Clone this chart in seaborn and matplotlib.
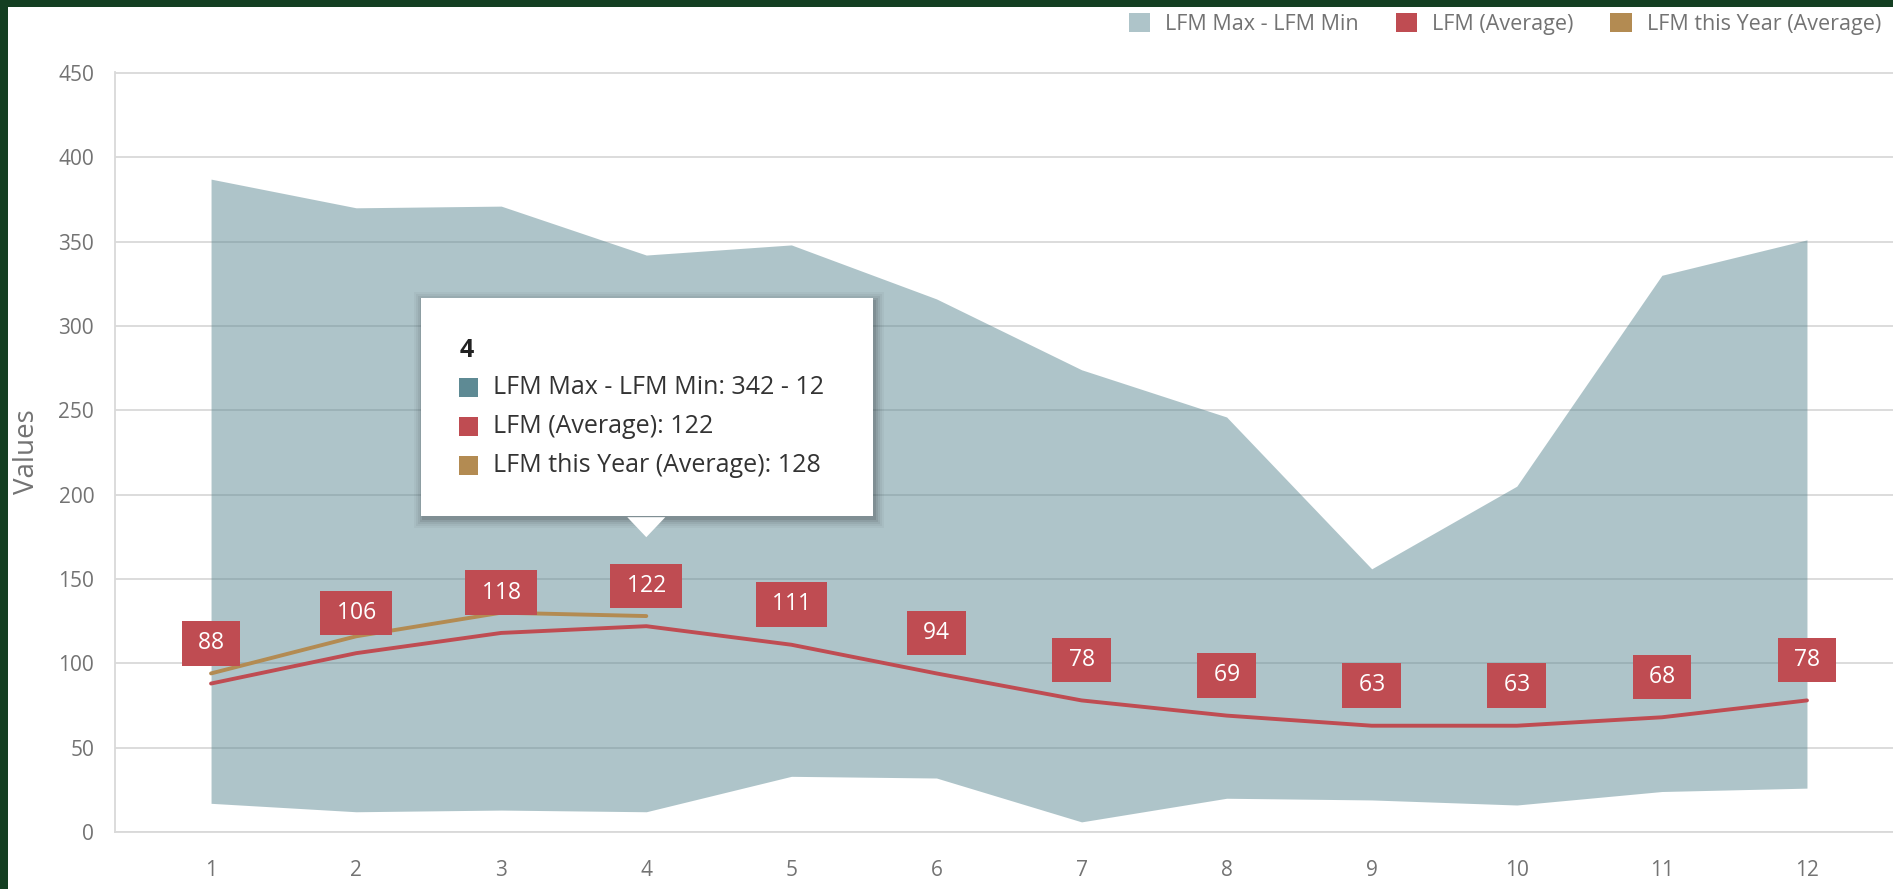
import matplotlib
matplotlib.use('Agg')
import matplotlib.pyplot as plt
from matplotlib.patches import Patch, Rectangle, Polygon
from matplotlib.transforms import IdentityTransform
import seaborn as sns

# chart data
months = [1, 2, 3, 4, 5, 6, 7, 8, 9, 10, 11, 12]
lfm_max = [387, 370, 371, 342, 348, 316, 274, 246, 156, 205, 330, 351]
lfm_min = [17, 12, 13, 12, 33, 32, 6, 20, 19, 16, 24, 26]
lfm_avg = [88, 106, 118, 122, 111, 94, 78, 69, 63, 63, 68, 78]
lfm_year = [94, 116, 130, 128]
year_months = months[:len(lfm_year)]
y_ticks = [0, 50, 100, 150, 200, 250, 300, 350, 400, 450]
series_names = ['LFM Max - LFM Min', 'LFM (Average)', 'LFM this Year (Average)']
hover_month = 4

BAND = '#5e8a94'
RED = '#bf4c52'
GOLD = '#b38b52'
GRID = '#d9d9d9'
TICK = '#737373'
BORDER = '#143f22'

W, H = 1893, 889

sns.set_style('white')
plt.rcParams['font.family'] = ['Open Sans', 'DejaVu Sans']

fig = plt.figure(figsize=(W / 100, H / 100), dpi=100, facecolor='white')
# dark green frame on the left and top
fig.add_artist(Rectangle((0, 0), 8 / W, 1, transform=fig.transFigure, fc=BORDER, ec='none', zorder=5))
fig.add_artist(Rectangle((0, 1 - 7 / H), 1, 7 / H, transform=fig.transFigure, fc=BORDER, ec='none', zorder=5))

ax = fig.add_axes([115 / W, 57 / H, 1 - 115 / W, 760 / H])

ax.fill_between(months, lfm_min, lfm_max, color=BAND, alpha=0.5, lw=0, zorder=1)
sns.lineplot(x=months, y=lfm_avg, color=RED, lw=2.8, ax=ax, zorder=3)
sns.lineplot(x=year_months, y=lfm_year, color=GOLD, lw=2.8, ax=ax, zorder=3)

for m, v in zip(months, lfm_avg):
    ax.annotate(f' {v} ', xy=(m, v), xytext=(0, 29), textcoords='offset points',
                ha='center', va='center', color='white', fontsize=16.5, zorder=4,
                bbox=dict(boxstyle='square,pad=0.45', fc=RED, ec='none'))

ax.set_xlim(0.338, 12.593)
ax.set_ylim(0, 450.5)
ax.set_xticks(months)
ax.set_yticks(y_ticks)
ax.set_axisbelow(True)
ax.yaxis.grid(True, color=GRID, lw=1.3)
ax.xaxis.grid(False)
for side in ['top', 'right']:
    ax.spines[side].set_visible(False)
for side in ['left', 'bottom']:
    ax.spines[side].set_color(GRID)
    ax.spines[side].set_linewidth(1.3)
ax.tick_params(axis='both', length=0, labelsize=15, colors=TICK)
ax.tick_params(axis='x', pad=20)
ax.tick_params(axis='y', pad=15)
ax.set_xlabel('')
ax.set_ylabel('Values', fontsize=20, color=TICK, va='center')
ax.yaxis.set_label_coords(-88 / (W - 115), 0.5)

fig.legend(handles=[Patch(fc=BAND, alpha=0.5, ec='none'), Patch(fc=RED, ec='none'), Patch(fc=GOLD, ec='none')],
           labels=series_names, loc='center right', bbox_to_anchor=(1881 / W, 1 - 24 / H),
           ncol=3, frameon=False, fontsize=15.5, handlelength=1.0, handleheight=1.0,
           handletextpad=0.7, columnspacing=1.7, borderpad=0, borderaxespad=0, labelcolor=TICK)

# hover tooltip for one month
i = months.index(hover_month)
px, py = ax.transData.transform((hover_month, lfm_avg[i]))
tx, ty = px, py + 89
ident = IdentityTransform()
left, right, bottom, top = tx - 225, tx + 227, ty + 21, ty + 239
for grow, a in [(9, 0.03), (7, 0.04), (5, 0.05), (3, 0.07), (1, 0.09)]:
    fig.add_artist(Rectangle((left - grow + 2, bottom - grow - 3), right - left + 2 * grow, top - bottom + 2 * grow,
                             transform=ident, fc='black', ec='none', alpha=a, zorder=10))
fig.add_artist(Polygon([(tx - 19, bottom - 1), (tx + 19, bottom - 1), (tx, ty)], closed=True,
                       transform=ident, fc='white', ec='none', zorder=11))
fig.add_artist(Rectangle((left, bottom), right - left, top - bottom, transform=ident, fc='white', ec='none', zorder=11))
fig.text(tx - 187, ty + 187, str(hover_month), transform=ident, fontsize=18, fontweight='bold',
         color='#222222', va='center', ha='left', zorder=12)
rows = [
    (BAND, f'{series_names[0]}: {lfm_max[i]} - {lfm_min[i]}'),
    (RED, f'{series_names[1]}: {lfm_avg[i]}'),
    (GOLD, f'{series_names[2]}: {lfm_year[i]}'),
]
for k, (c, s) in enumerate(rows):
    cy = ty + 150 - 39 * k
    fig.add_artist(Rectangle((tx - 187, cy - 9.5), 19, 19, transform=ident, fc=c, ec='none', zorder=12))
    fig.text(tx - 153, cy, s, transform=ident, fontsize=18, color='#333333', va='center', ha='left', zorder=12)

fig.savefig('out.png', dpi=100, facecolor=fig.get_facecolor())
